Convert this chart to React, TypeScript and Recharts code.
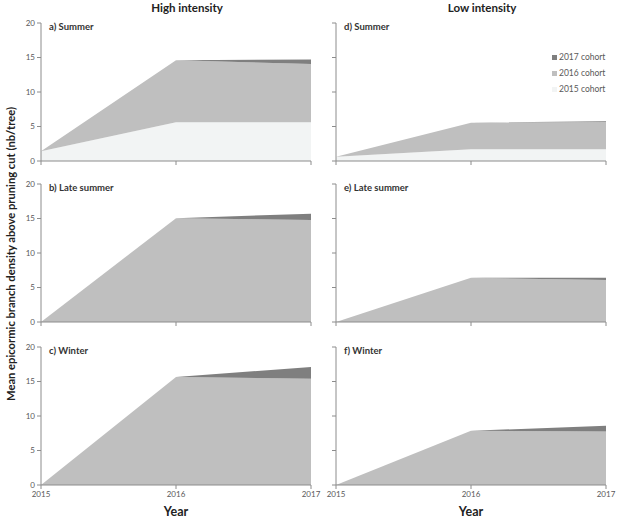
import React from 'react';
import { AreaChart, Area, XAxis, YAxis } from 'recharts';

const years = [2015, 2016, 2017];
const cohortKeys = ['c2015', 'c2016', 'c2017'];
const cohortNames = ['2015 cohort', '2016 cohort', '2017 cohort'];
const cohortColors = ['#f2f4f4', '#bfbfbf', '#7f7f7f'];
const yTicks = [0, 5, 10, 15, 20];

// High intensity pruning
const summerHigh2015 = [1.4, 5.6, 5.6];
const summerHigh2016 = [0, 9.0, 8.45];
const summerHigh2017 = [0, 0, 0.65];

const lateHigh2015 = [0, 0, 0];
const lateHigh2016 = [0, 15.05, 14.8];
const lateHigh2017 = [0, 0, 0.9];

const winterHigh2015 = [0, 0, 0];
const winterHigh2016 = [0, 15.65, 15.4];
const winterHigh2017 = [0, 0, 1.7];

// Low intensity pruning
const summerLow2015 = [0.6, 1.7, 1.7];
const summerLow2016 = [0, 3.85, 3.95];
const summerLow2017 = [0, 0, 0.1];

const lateLow2015 = [0, 0, 0];
const lateLow2016 = [0, 6.4, 6.1];
const lateLow2017 = [0, 0, 0.3];

const winterLow2015 = [0, 0, 0];
const winterLow2016 = [0, 7.85, 7.75];
const winterLow2017 = [0, 0, 0.85];

const FONT = 'Lato, "Open Sans", sans-serif';
const AXIS = '#8c8c8c';

const colLeft = [1, 296];
const rowTop = [13, 174, 337];

const panels = [
  { label: 'a) Summer', col: 0, row: 0, series: [summerHigh2015, summerHigh2016, summerHigh2017] },
  { label: 'b) Late summer', col: 0, row: 1, series: [lateHigh2015, lateHigh2016, lateHigh2017] },
  { label: 'c) Winter', col: 0, row: 2, series: [winterHigh2015, winterHigh2016, winterHigh2017] },
  { label: 'd) Summer', col: 1, row: 0, series: [summerLow2015, summerLow2016, summerLow2017], legend: true },
  { label: 'e) Late summer', col: 1, row: 1, series: [lateLow2015, lateLow2016, lateLow2017] },
  { label: 'f) Winter', col: 1, row: 2, series: [winterLow2015, winterLow2016, winterLow2017] },
];

// legend sits inside the top-right panel, newest cohort first
const CohortLegend = () => (
  <div
    style={{
      position: 'absolute',
      left: 256,
      top: 36,
      fontFamily: FONT,
      fontSize: 8.5,
      color: '#595959',
      lineHeight: '16px',
      whiteSpace: 'nowrap',
    }}
  >
    {[2, 1, 0].map((i) => (
      <div key={i} style={{ display: 'flex', alignItems: 'center' }}>
        <span style={{ width: 5, height: 5, background: cohortColors[i], marginRight: 2, display: 'inline-block' }} />
        {cohortNames[i]}
      </div>
    ))}
  </div>
);

const Panel = ({ p }: { p: (typeof panels)[number] }) => {
  const data = years.map((year, i) => ({
    year,
    c2015: p.series[0][i],
    c2016: p.series[1][i],
    c2017: p.series[2][i],
  }));
  const bottom = p.row === 2;
  const showY = p.col === 0;
  return (
    <div style={{ position: 'absolute', left: colLeft[p.col], top: rowTop[p.row] }}>
      <AreaChart width={320} height={188} data={data} margin={{ top: 10, right: 10, left: 0, bottom: 0 }}>
        <XAxis
          dataKey="year"
          type="number"
          domain={[2015, 2017]}
          ticks={years}
          height={40}
          stroke={AXIS}
          tickSize={4}
          tick={{ fill: '#595959', fontSize: 8, fontFamily: FONT }}
          tickFormatter={(v) => (bottom ? String(v) : '')}
        />
        <YAxis
          domain={[0, 20]}
          ticks={yTicks}
          width={40}
          stroke={AXIS}
          tickSize={4}
          tick={{ fill: '#595959', fontSize: 8, fontFamily: FONT }}
          tickFormatter={(v) => (showY ? String(v) : '')}
        />
        {cohortKeys.map((k, i) => (
          <Area
            key={k}
            type="linear"
            dataKey={k}
            name={cohortNames[i]}
            stackId="1"
            stroke="none"
            fill={cohortColors[i]}
            fillOpacity={1}
            isAnimationActive={false}
          />
        ))}
      </AreaChart>
      {p.legend && <CohortLegend />}
      <div
        style={{
          position: 'absolute',
          left: 48,
          top: 8,
          fontFamily: FONT,
          fontSize: 9.5,
          fontWeight: 700,
          color: '#333',
        }}
      >
        {p.label}
      </div>
    </div>
  );
};

const textBold: React.CSSProperties = {
  position: 'absolute',
  fontFamily: FONT,
  fontWeight: 700,
  color: '#222',
  whiteSpace: 'nowrap',
  transform: 'translate(-50%, -50%)',
};

export default function App() {
  return (
    <div style={{ position: 'absolute', left: 0, top: 0, width: 621, height: 522, background: '#fff', overflow: 'hidden' }}>
      <div style={{ ...textBold, left: 187, top: 7, fontSize: 11.5 }}>High intensity</div>
      <div style={{ ...textBold, left: 482, top: 7, fontSize: 11.5 }}>Low intensity</div>
      {panels.map((p) => (
        <Panel key={p.label} p={p} />
      ))}
      <div style={{ ...textBold, left: 176, top: 511, fontSize: 12.5 }}>Year</div>
      <div style={{ ...textBold, left: 471, top: 511, fontSize: 12.5 }}>Year</div>
      <div style={{ ...textBold, left: 10, top: 254, fontSize: 11.2, transform: 'translate(-50%, -50%) rotate(-90deg)' }}>
        Mean epicormic branch density above pruning cut (nb/tree)
      </div>
    </div>
  );
}
